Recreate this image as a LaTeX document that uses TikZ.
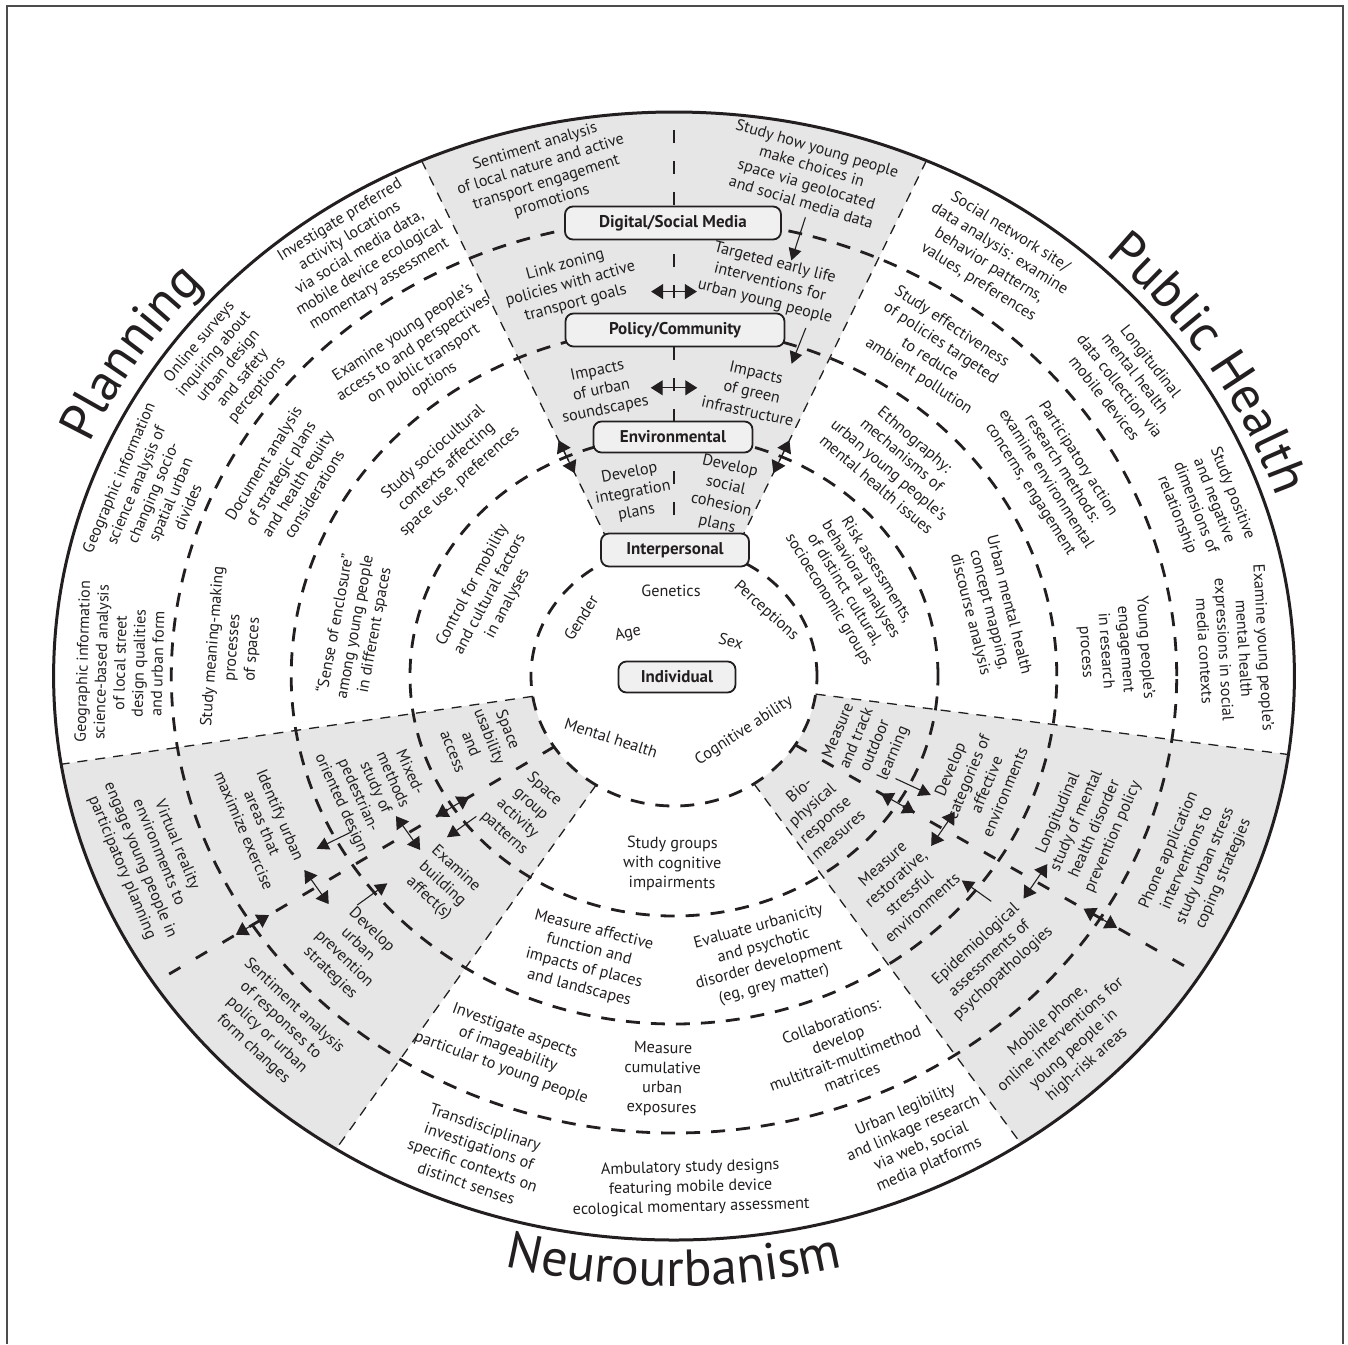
\documentclass[tikz,border=0pt]{standalone}
\usepackage{fontspec}
\setmainfont{PT Sans}
\usetikzlibrary{arrows.meta,decorations.text}
\definecolor{tc}{HTML}{231F20}
\definecolor{wedge}{HTML}{E6E6E6}
\definecolor{boxfill}{HTML}{F0F0F0}
\newcommand\tfont{\fontsize{52}{60}\selectfont}
\newcounter{lb}
% label at polar position (angle #2, radius #3) of the ellipse system, rotated tangentially
\newcommand\plbl[4][]{%
  \stepcounter{lb}%
  \pgfmathsetmacro\labX{674+1.1*(#3)*cos(#2)}%
  \pgfmathsetmacro\labY{-676+(#3)*sin(#2)}%
  \pgfmathsetmacro\labR{atan2(-cos(#2),1.1*sin(#2))+180*(sin(#2)<0)}%
  \node[lab,rotate=\labR,#1] (L\thelb) at (\labX,\labY) {#4};}
\newcommand\myarr[4]{\coordinate (#4s) at #2; \coordinate (#4e) at #3; \draw[#1] (#4s) -- (#4e);}
\begin{document}
\begin{tikzpicture}[x=1pt,y=1pt,
  lab/.style={align=center, inner sep=0pt, text=tc, font=\fontsize{16.2}{19.8}\selectfont},
  tight/.style={font=\fontsize{16}{18.8}\selectfont},
  boxn/.style={draw=tc, line width=1.8pt, rounded corners=8pt, fill=boxfill, text=tc, inner sep=0pt,
    font=\bfseries\fontsize{17}{20}\selectfont},
  ring/.style={draw=tc, line width=2.8pt, dash pattern=on 14pt off 11pt},
  cline/.style={draw=tc, line width=2.8pt, dash pattern=on 13pt off 18pt},
  sectb/.style={draw=tc, line width=1.3pt, dash pattern=on 10pt off 8pt},
  dbl/.style={draw=tc, line width=1.1pt, >={Triangle[length=12pt,width=15pt]}, <->},
  sgl/.style={draw=tc, line width=1.1pt, >={Triangle[length=12pt,width=13pt]}, ->}]
\fill[white] (0,0) rectangle (1348,-1344);
\useasboundingbox (0,0) rectangle (1348,-1344);
\draw[line width=2pt, draw=gray!60!black] (7,-1344) -- (7,-6) -- (1343,-6) -- (1343,-1344);

\begin{scope}[shift={(674pt,-676pt)}, x=1.1pt, y=1pt]
  % gray wedges
  \fill[wedge] (66:130) -- (66:564) arc[start angle=66,end angle=114,x radius=620.4pt,y radius=564pt]
     -- (114:130) arc[start angle=114,end angle=66,x radius=143pt,y radius=130pt] -- cycle;
  \fill[wedge] (189:130) -- (189:564) arc[start angle=189,end angle=237,x radius=620.4pt,y radius=564pt]
     -- (237:130) arc[start angle=237,end angle=189,x radius=143pt,y radius=130pt] -- cycle;
  \fill[wedge] (304:130) -- (304:564) arc[start angle=304,end angle=352,x radius=620.4pt,y radius=564pt]
     -- (352:130) arc[start angle=352,end angle=304,x radius=143pt,y radius=130pt] -- cycle;
  % sector boundaries
  \foreach \a in {66,114,189,237,304,352} \draw[sectb] (\a:130) -- (\a:564);
  % center lines of the gray wedges
  \foreach \a in {90,213,328} \draw[cline] (\a:130) -- (\a:564);
  % rings
  \draw[ring] (0,0) ellipse[x radius=143pt, y radius=130pt];
  \draw[ring] (0,0) ellipse[x radius=264pt, y radius=240pt];
  \draw[ring] (0,0) ellipse[x radius=382.8pt, y radius=348pt];
  \draw[ring] (0,0) ellipse[x radius=502.7pt, y radius=457pt];
  \draw[tc, line width=3pt] (0,0) ellipse[x radius=620.4pt, y radius=564pt];
  % arrows, top wedge
  \myarr{dbl}{(93.1:385)}{(86.9:385)}{ta}
  \myarr{dbl}{(94.2:289)}{(85.8:289)}{tb}
  \myarr{dbl}{(114:222)}{(114:258)}{tc1}
  \myarr{dbl}{(66:222)}{(66:258)}{td}
  \myarr{sgl}{(75.4:474)}{(75.6:429)}{te}
  \myarr{sgl}{(71:368)}{(71.1:330)}{tf}
  % arrows, lower-left wedge
  \myarr{dbl}{(213:222)}{(213:258)}{la}
  \myarr{dbl}{(213:439)}{(213:475)}{lb}
  \myarr{dbl}{(209:289)}{(217:289)}{lc}
  \myarr{dbl}{(210:388)}{(216:388)}{ld}
  \myarr{sgl}{(218:228)}{(218:262)}{le}
  \myarr{sgl}{(208:332)}{(208:368)}{lf}
  \myarr{sgl}{(218.5:368)}{(218.5:333)}{lg}
  % arrows, lower-right wedge
  \myarr{dbl}{(328:222)}{(328:258)}{ra}
  \myarr{dbl}{(328:439)}{(328:475)}{rb}
  \myarr{dbl}{(324:289)}{(332:289)}{rc}
  \myarr{dbl}{(325:388)}{(331:388)}{rd}
  \myarr{sgl}{(333:226)}{(333:262)}{re}
  \myarr{sgl}{(322:366)}{(322:332)}{rf}
  % titles
  \path[decorate, decoration={text along path, text align=center, text color=tc, text={|\tfont|Planning}}]
    (162:580) arc[start angle=162, end angle=132, x radius=638pt, y radius=580pt];
  \path[decorate, decoration={text along path, text align=center, text color=tc, text={|\tfont|Public Health}}]
    (51:576) arc[start angle=51, end angle=14, x radius=633.6pt, y radius=576pt];
  \path[decorate, decoration={text along path, text align=center, text color=tc, text={|\tfont|Neurourbanism}}]
    (248:610) arc[start angle=248, end angle=292, x radius=671pt, y radius=610pt];
\end{scope}

% boxes
\node[boxn, minimum width=216pt, minimum height=33pt] (dsm) at (673,-223) {Digital/Social Media};
\node[boxn, minimum width=219pt, minimum height=33pt] (pol) at (675,-330) {Policy/Community};
\node[boxn, minimum width=159pt, minimum height=31pt] (env) at (673,-437) {Environmental};
\node[boxn, minimum width=148pt, minimum height=33pt] (int) at (675,-550) {Interpersonal};
\node[boxn, minimum width=117pt, minimum height=31pt] (ind) at (677,-677) {Individual};

% individual level
\node[lab] (gen) at (671,-591) {Genetics};
\node[lab, rotate=58] (gnd) at (581,-618) {Gender};
\node[lab, rotate=12] (age) at (628,-634) {Age};
\node[lab, rotate=-42] (per) at (766,-611) {Perceptions};
\node[lab, rotate=-15] (sex) at (731,-641) {Sex};
\node[lab, rotate=-18] (mh) at (611,-738) {Mental health};
\node[lab, rotate=33] (cog) at (744,-731) {Cognitive ability};

% top wedge
\plbl[tight,rotate=5]{103.3}{516}{Sentiment analysis\\of local nature and active\\transport engagement\\promotions}
\plbl[tight,rotate=-4]{76.2}{516}{Study how young people\\make choices in\\space via geolocated\\and social media data}
\plbl[rotate=3]{103.5}{403}{Link zoning\\policies with active\\transport goals}
\plbl[rotate=-3]{77.5}{403}{Targeted early life\\interventions for\\urban young people}
\plbl{103}{293}{Impacts\\of urban\\soundscapes}
\plbl{76}{293}{Impacts\\of green\\infrastructure}
\plbl{101.5}{187}{Develop\\integration\\plans}
\plbl{76}{186}{Develop\\social\\cohesion\\plans}

% planning
\plbl[tight]{124}{511}{Investigate preferred\\activity locations\\via social media data,\\mobile device ecological\\momentary assessment}
\plbl[tight]{142.6}{510}{Online surveys\\inquiring about\\urban design\\and safety\\perceptions}
\plbl[tight]{158.8}{508}{Geographic information\\science analysis of\\changing socio-\\spatial urban\\divides}
\plbl[tight]{178.5}{504}{Geographic information\\science-based analysis\\of local street\\design qualities\\and urban form}
\plbl[tight]{126}{395}{Examine young people’s\\access to and perspectives\\on public transport\\options}
\plbl{150.6}{402}{Document analysis\\of strategic plans\\and health equity\\considerations}
\plbl{176}{402}{Study meaning-making\\processes\\of spaces}
\plbl{134.7}{294}{Study sociocultural\\contexts affecting\\space use, preferences}
\plbl{170.4}{294}{“Sense of enclosure”\\among young people\\in different spaces}
\plbl{154}{186}{Control for mobility\\and cultural factors\\in analyses}

% public health
\plbl{55.2}{510}{Social network site/\\data analysis: examine\\behavior patterns,\\values, preferences}
\plbl{35.7}{508}{Longitudinal\\mental health\\data collection via\\mobile devices}
\plbl{19.6}{512}{Study positive\\and negative\\dimensions of\\relationship}
\plbl{3}{510}{Examine young people’s\\mental health\\expressions in social\\media contexts}
\plbl{53.8}{402}{Study effectiveness\\of policies targeted\\to reduce\\ambient pollution}
\plbl[tight]{30.3}{400}{Participatory action\\research methods:\\examine environmental\\concerns, engagement}
\plbl{3.7}{402}{Young people’s\\engagement\\in research\\process}
\plbl{46.7}{294}{Ethnography:\\mechanisms of\\urban young people’s\\mental health issues}
\plbl{13}{294}{Urban mental health\\concept mapping,\\discourse analysis}
\plbl[tight]{29.3}{186}{Risk assessments,\\behavioral analyses\\of distinct cultural,\\socioeconomic groups}

% lower right wedge
\plbl{-20.8}{187}{Measure\\and track\\outdoor\\learning}
\plbl{-46}{189}{Bio-\\physical\\response\\measures}
\plbl{-20.8}{295}{Develop\\categories of\\affective\\environments}
\plbl{-45.3}{295}{Measure\\restorative,\\stressful\\environments}
\plbl{-21.7}{403}{Longitudinal\\study of mental\\health disorder\\prevention policy}
\plbl{-44.6}{403}{Epidemiological\\assessments of\\psychopathologies}
\plbl{-21.4}{510}{Phone application\\interventions to\\study urban stress\\coping strategies}
\plbl{-45.7}{512}{Mobile phone,\\online interventions for\\young people in\\high-risk areas}

% neurourbanism
\plbl{-90.5}{188}{Study groups\\with cognitive\\impairments}
\plbl{-105.7}{294}{Measure affective\\function and\\impacts of places\\and landscapes}
\plbl{-73.3}{292}{Evaluate urbanicity\\and psychotic\\disorder development\\(eg, grey matter)}
\plbl{-112}{403}{Investigate aspects\\of imageability\\particular to young people}
\plbl{-91.5}{403}{Measure\\cumulative\\urban\\exposures}
\plbl{-67.8}{403}{Collaborations:\\develop\\multitrait-multimethod\\matrices}
\plbl{-110.6}{512}{Transdisciplinary\\investigations of\\specific contexts on\\distinct senses}
\plbl{-88.3}{512}{Ambulatory study designs\\featuring mobile device\\ecological momentary assessment}
\plbl{-64.4}{512}{Urban legibility\\and linkage research\\via web, social\\media platforms}

% lower left wedge
\plbl{-159.9}{187}{Space\\usability\\and\\access}
\plbl{-135.2}{192}{Space\\group\\activity\\patterns}
\plbl[tight]{-157.6}{294}{Mixed-\\methods\\study of\\pedestrian-\\oriented design}
\plbl{-135.4}{296}{Examine\\building\\affect(s)}
\plbl{-158.6}{402}{Identify urban\\areas that\\maximize exercise}
\plbl{-136.8}{403}{Develop\\urban\\prevention\\strategies}
\plbl{-159.3}{510}{Virtual reality\\environments to\\engage young people in\\participatory planning}
\plbl{-136}{506}{Sentiment analysis\\of responses to\\policy or urban\\form changes}
\end{tikzpicture}
\end{document}
